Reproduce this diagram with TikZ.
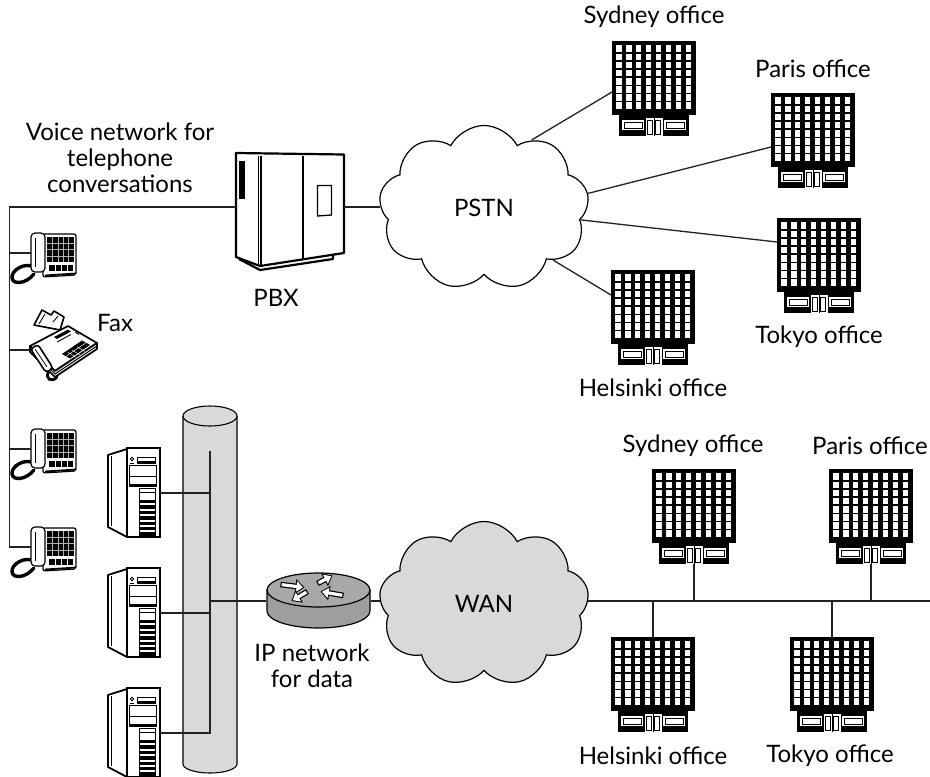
\documentclass[tikz,border=0pt]{standalone}
\usepackage{fontspec}
\setmainfont{Lato}
\usetikzlibrary{shapes.symbols,arrows.meta,calc}

\definecolor{cylgray}{HTML}{D9D9D9}
\definecolor{routergray}{HTML}{9E9E9E}
\definecolor{routertop}{HTML}{A8A8A8}
\definecolor{wirecol}{HTML}{222222}

\tikzset{
  lbl/.style={font=\fontsize{24}{26}\selectfont, align=center, inner sep=0},
  wire/.style={line width=1.3pt, draw=wirecol},
  netcloud/.style={cloud, draw, line width=1.2pt, cloud puffs=9, cloud puff arc=125,
    aspect=1.25, minimum width=210, minimum height=165, inner sep=0,
    font=\fontsize{24}{26}\selectfont},
  % office tower: origin at the top left corner, 84 x 95
  office/.pic={
    \node[inner sep=0, minimum width=84, minimum height=95, anchor=north west] (-box) at (0,0) {};
    \coordinate (-top) at (42,0);
    \coordinate (-bot) at (42,95);
    \fill[black] (0,0) rectangle (84,74);
    \foreach \i in {0,...,7}{
      \foreach \j in {0,...,7}{
        \fill[white] ({4.2+9.9*\i},{4.4+8.1*\j}) rectangle ++(5.4,6.7);
      }
    }
    \fill[black] (7,74) rectangle (77,95);
    \draw[white, line width=1.4, fill=white] (10.5,79.5) rectangle (31.5,88.5);
    \draw[black, line width=0.6] (12.2,81.2) rectangle (29.8,86.8);
    \draw[white, line width=1.4, fill=white] (52.5,79.5) rectangle (73.5,88.5);
    \draw[black, line width=0.6] (54.2,81.2) rectangle (71.8,86.8);
    \fill[white] (33.5,77) rectangle (50.5,95);
    \draw[black, line width=0.7] (42,77) -- (42,95);
    \draw[black, line width=0.5] (35.5,79) rectangle (40.5,93.5);
    \draw[black, line width=0.5] (43.5,79) rectangle (48.5,93.5);
  },
  % desk telephone: origin at the top left of the handset
  deskphone/.pic={
    \node[inner sep=0, minimum width=66, minimum height=52, anchor=north west] (-box) at (-21,0) {};
    \coordinate (-port) at (0,21);
    \draw[line width=3.4, line cap=round] (3,35) .. controls (-6,30) and (-20,38) .. (-19,46)
      .. controls (-18,53) and (-5,52) .. (3,42);
    \draw[fill=white, line width=1.2, rounded corners=2] (12,2) -- (45,2) -- (45,43) -- (12,45) -- cycle;
    \fill (16,4.5) rectangle (43,30);
    \foreach \i in {1,...,4} \draw[white!70!black, line width=0.4] ({16+5.4*\i},4.5) -- ++(0,25.5);
    \foreach \j in {1,...,3} \draw[white!70!black, line width=0.4] (16,{4.5+6.4*\j}) -- ++(27,0);
    \fill (18,32.5) rectangle (42,38.5);
    \foreach \i in {1,...,3} \draw[white, line width=0.5] ({18+6*\i},32.5) -- ++(0,6);
    \draw[line width=1.8] (14,43.5) -- (45,41.5);
    \draw[fill=white, line width=1.2, rounded corners=4] (0,1) rectangle (14,40);
    \draw[line width=0.8] (4,6) -- (4,35);
  },
  % fax machine: origin at the top left of its bounding box
  faxmachine/.pic={
    \node[inner sep=0, minimum width=68, minimum height=72, anchor=north west] (-box) at (0,0) {};
    \coordinate (-port) at (0,40);
    % paper guide
    \draw[fill=white, line width=1.6, line join=round] (4,15) -- (12,0) -- (21,5) -- (24,1) -- (34,7) -- (30,20) -- cycle;
    \draw[line width=0.9] (9,14) -- (15,4) (23,12) -- (28,6) (14,17) -- (26,19);
    % housing
    \draw[fill=white, line width=1.7, line join=round] (0,36) -- (38,16) -- (67,33) -- (25,61) -- cycle;
    \draw[fill=white, line width=1.7, line join=round] (25,61) -- (67,33) -- (67,39) -- (25,67) -- (0,42) -- (0,36) -- cycle;
    \draw[line width=1] (2,39) -- (25,64) -- (67,36);
    % keypad and display
    \fill (32,44) -- (52,30.5) -- (60,35) -- (40,48.5) -- cycle;
    \draw[white, line width=0.45] (36,46.2) -- (56,32.8) (42,40) -- (50,45) (47,36.7) -- (55,41.5) (38,42.2) -- (46,47.2);
    \fill (24,27) -- (38,19.5) -- (41,21.5) -- (27,29) -- cycle;
    \draw[line width=0.9] (27,32) -- (41,24.5) (45,22) -- (49,24.5);
    % handset with coiled cord
    \draw[line width=2.8, line cap=round] (19,61) .. controls (14,69) and (22,73) .. (27,67);
    \draw[fill=white, line width=1.6, rounded corners=3] (0.5,39) -- (8,34.5) -- (23,58) -- (16,62.5) -- cycle;
    \draw[line width=0.8] (5,39) -- (17,57);
  },
  % tower server: origin at the top left, 52 x 92
  towerserver/.pic={
    \node[inner sep=0, minimum width=52, minimum height=90, anchor=north west] (-box) at (0,0) {};
    \coordinate (-port) at (52,45);
    \draw[fill=white, line width=1.8, line join=round] (0,7) -- (19,1) -- (19,89) -- (0,79) -- cycle;
    \draw[line width=0.7] (3,8) -- (3,78);
    \draw[fill=white, line width=2] (19,0) rectangle (52,89);
    \draw[line width=0.8] (24,11) circle (1.8);
    \draw[line width=1] (22,15) -- (26,15) (22,17) -- (26,17);
    \draw[line width=0.8] (29,9) rectangle (47,15);
    \fill (29,13) rectangle (47,15);
    \draw[line width=0.9] (21,17) rectangle (48,28);
    \draw[line width=0.9] (21,28) rectangle (48,38);
    \fill (21,35.5) rectangle (48,38);
    \draw[line width=0.8] (31,40) rectangle (47,88);
    \draw[line width=0.6] (31,44) -- (47,44);
    \foreach \j in {0,...,6} \fill ({31},{52+5.4*\j}) rectangle ++(16,3.4);
  },
  % PBX cabinet: origin at its top left corner
  pbxcab/.pic={
    \node[inner sep=0, minimum width=108, minimum height=118, anchor=north west] (-box) at (0,0) {};
    \coordinate (-w) at (0,54);
    \coordinate (-e) at (108,54);
    \draw[fill=white, line width=2.2, line join=round] (0,0) -- (108,1.5) -- (108,100) -- (24,113) -- (0,104) -- cycle;
    \draw[line width=2.2, line join=round] (3,106) -- (24,117) -- (97,106) -- (97,101.5);
    \draw[line width=1] (22.3,2.7) -- (22.3,112);
    \draw[line width=1.6] (25,3) -- (25,113);
    \draw[line width=1.2] (67,2.5) -- (67,106);
    \fill (3.3,8.3) rectangle (9,46);
    \draw[line width=1.3] (81.5,32.5) -- (95.5,32.5) -- (95.5,62) -- (81.5,63) -- cycle;
  }
}

\begin{document}
\begin{tikzpicture}[x=1pt, y=-1pt]
\useasboundingbox (0,0) rectangle (930,777);
\fill[white] (0,0) rectangle (930,777);

%----------------------------------------------------------- voice network
\node[lbl] (voicelbl) at (120,158) {Voice network for\\telephone\\conversations};
\pic (pbx) at (236,153) {pbxcab};
\node[lbl] (pbxlbl) at (276,298) {PBX};
\node[netcloud] (pstn) at (484,208) {PSTN};

\pic (ph1) at (31,232) {deskphone};
\pic (fax) at (30,310) {faxmachine};
\node[lbl, anchor=west] (faxlbl) at (97,323) {Fax};
\pic (ph2) at (31,428) {deskphone};
\pic (ph3) at (31,526) {deskphone};

\coordinate (vtop) at (9.5,207);
\draw[wire] (pbx-w) -- (vtop) -- (vtop |- ph3-port) -- (ph3-port);
\draw[wire] (ph1-port) -- (ph1-port -| vtop);
\draw[wire] (fax-port) -- (fax-port -| vtop);
\draw[wire] (ph2-port) -- (ph2-port -| vtop);
\draw[wire] (pbx-e) -- (pstn.west |- pbx-e);

\pic (sydU) at (612,41) {office};
\pic (parU) at (771,93) {office};
\pic (tokU) at (777,218) {office};
\pic (helU) at (611,270) {office};
\node[lbl] (sydUlbl) at (654,17) {Sydney office};
\node[lbl] (parUlbl) at (813,69) {Paris office};
\node[lbl] (tokUlbl) at (819,337) {Tokyo office};
\node[lbl] (helUlbl) at (653,388) {Helsinki office};

\draw[wire] (pstn.55) -- ($(sydU-box.north west)+(0,51)$);
\draw[wire] (pstn.8) -- ($(parU-box.north west)+(0,54)$);
\draw[wire] (pstn.-7) -- ($(tokU-box.north west)+(0,24)$);
\draw[wire] (pstn.-37) -- ($(helU-box.north west)+(0,25)$);

%----------------------------------------------------------- data network
\fill[cylgray] (183,416) -- (183,764) arc[start angle=180, end angle=360, x radius=27pt, y radius=9pt] -- (237,416) -- cycle;
\draw[line width=1.1pt] (183,416) -- (183,764) arc[start angle=180, end angle=360, x radius=27pt, y radius=9pt] -- (237,416);
\draw[line width=1.1pt, fill=cylgray] (210,416) ellipse[x radius=27pt, y radius=10pt];

\pic (srv1) at (108,448) {towerserver};
\pic (srv2) at (108,568) {towerserver};
\pic (srv3) at (108,688) {towerserver};

\coordinate (bbtop) at (210,451);
\draw[wire] (bbtop) -- (bbtop |- srv3-port) -- (srv3-port);
\draw[wire] (srv1-port) -- (srv1-port -| bbtop);
\draw[wire] (srv2-port) -- (srv2-port -| bbtop);

% router
\node[inner sep=0, minimum width=104, minimum height=56] (router) at (318.5,601) {};
\draw[wire] (router.west) -- (router.west -| bbtop);
\draw[line width=1.2pt, fill=routergray] (267,590) -- (267,611) arc[start angle=180, end angle=360, x radius=51.5pt, y radius=17pt] -- (370,590) -- cycle;
\draw[line width=1.2pt, fill=routertop] (318.5,590) ellipse[x radius=51.5pt, y radius=17pt];
\begin{scope}[shift={(318.5,590)}]
  \foreach \a/\b in {{(-38,-5.5)}/{(-14,-2.5)}, {(-1,-6.5)}/{(14,-14.5)}, {(-11,1.5)}/{(-27,11)}, {(25,5.5)}/{(2,1.5)}}{
    \draw[line width=5.6pt, -{Triangle[length=9pt, width=14pt]}] \a -- \b;
    \draw[white, line width=3.2pt, shorten <=1.2pt, shorten >=1.5pt, -{Triangle[length=6.5pt, width=10pt]}] \a -- \b;
  }
\end{scope}
\node[lbl] (iplbl) at (312,666) {IP network\\for data};

\node[netcloud, fill=cylgray] (wan) at (484,604) {WAN};
\draw[wire] (router.east) -- (router.east -| wan.west);

\pic (sydL) at (652,469) {office};
\pic (parL) at (829,469) {office};
\pic (helL) at (611,637) {office};
\pic (tokL) at (790,637) {office};
\node[lbl] (sydLlbl) at (693,446) {Sydney office};
\node[lbl] (parLlbl) at (870,446) {Paris office};
\node[lbl] (helLlbl) at (653,756) {Helsinki office};
\node[lbl] (tokLlbl) at (830,756) {Tokyo office};

\coordinate (busend) at (930,601);
\draw[wire] (wan.east |- busend) -- (busend);
\draw[wire] (sydL-bot) -- (sydL-bot |- busend);
\draw[wire] (parL-bot) -- (parL-bot |- busend);
\draw[wire] (helL-top) -- (helL-top |- busend);
\draw[wire] (tokL-top) -- (tokL-top |- busend);
\end{tikzpicture}
\end{document}
